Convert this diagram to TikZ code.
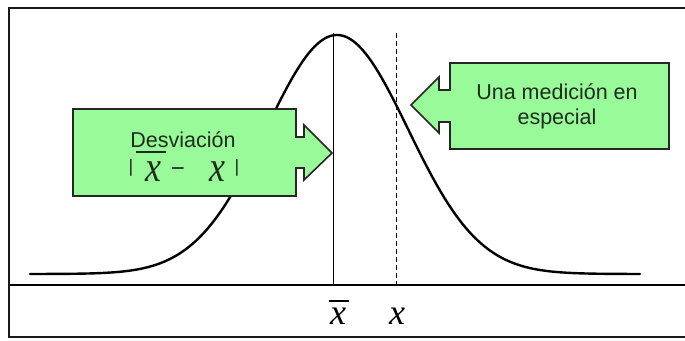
\documentclass[tikz,border=0pt]{standalone}
\usepackage{fontspec}
\setmainfont{Liberation Sans}
\newfontfamily\serifx{Liberation Serif}
\definecolor{boxgreen}{RGB}{152,250,152}
\definecolor{txtdark}{RGB}{30,45,30}
\begin{document}
\begin{tikzpicture}[x=1pt,y=-1pt,
  callout/.style={draw=black!85,fill=boxgreen,line width=1.6pt,line join=miter},
  boxtext/.style={text=txtdark,font=\fontsize{21.5}{25}\selectfont,align=center,inner sep=0pt},
  mathx/.style={text=txtdark,font=\serifx\itshape\fontsize{36}{36}\selectfont,inner sep=0pt,
    anchor=base,text height=20pt,text depth=0pt},
  pipe/.style={text=txtdark,font=\fontsize{18}{18}\selectfont,inner sep=0pt},
  guide/.style={line width=1pt,black},
  axislbl/.style={font=\serifx\itshape\fontsize{36}{36}\selectfont,inner sep=0pt}]
\useasboundingbox (0,0) rectangle (685,340);
% frame
\draw[line width=2pt,black!90] (690,8) -- (9,8) -- (9,337) -- (690,337);
% axis
\coordinate (axL) at (10,285);
\coordinate (axR) at (690,285);
\draw[line width=1.5pt] (axL) -- (axR);
% guides
\coordinate (mTop) at (333,33);
\coordinate (mBot) at (333,285);
\coordinate (xTop) at (396,33);
\coordinate (xBot) at (396,285);
\draw[guide] (mTop) -- (mBot);
\draw[guide,dashed,dash pattern=on 5pt off 3pt] (xTop) -- (xBot);
% gaussian curve
\draw[line width=2.4pt,line cap=round] plot[domain=30:640,samples=200,smooth]
  (\x,{274-239*exp(-0.5*((\x-337)/71)^2)});
% left callout
\draw[callout] (73,109) -- (296,109) -- (296,137) -- (304,137) -- (304,125)
  -- (332,153) -- (304,180) -- (304,168) -- (296,168) -- (296,196) -- (73,196) -- cycle;
\node[boxtext] (desv) at (183,140) {Desviación};
\node[pipe] (p1) at (131,168) {|};
\node[mathx] (x1) at (153,181) {\smash{\scalebox{1}[1.2]{x}}};
\node[pipe,font=\fontsize{24}{24}\selectfont] (minus) at (178,172) {−};
\node[mathx] (x2) at (217,181) {\smash{\scalebox{1}[1.2]{x}}};
\node[pipe] (p2) at (237,168) {|};
\coordinate (barL) at (136,152);
\coordinate (barR) at (166,152);
\draw[line width=1.3pt,txtdark] (barL) -- (barR);
% right callout
\draw[callout] (450,63) -- (669,63) -- (669,149) -- (450,149) -- (450,122) -- (439,122)
  -- (439,133) -- (411,105) -- (439,77) -- (439,90) -- (450,90) -- cycle;
\node[boxtext] (med) at (557,106) {Una medición en\\especial};
% axis labels
\node[axislbl] (xbar) at (338,316) {x};
\coordinate (xbL) at (329,301);
\coordinate (xbR) at (349,301);
\draw[line width=1.5pt] (xbL) -- (xbR);
\node[axislbl] (xlab) at (397,316) {x};
\end{tikzpicture}
\end{document}
